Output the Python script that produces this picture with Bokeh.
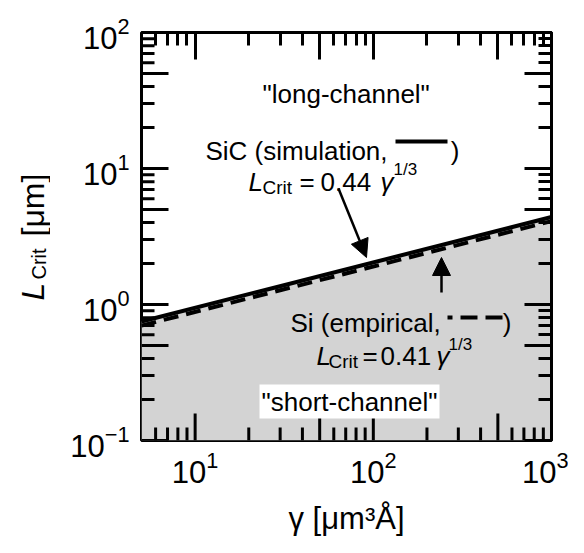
import math
from bokeh.plotting import figure
from bokeh.layouts import row
from bokeh.models import (LogAxis, FixedTicker, Label, Arrow, NormalHead,
                          CustomJSTickFormatter, LogTickFormatter)
from bokeh.embed import file_html
from bokeh.resources import INLINE

# ---------------- data ----------------
gamma = [5, 1000]                 # γ [µm^3 Å]
L_sic = [0.75, 4.4]               # SiC (simulation): L = 0.44 γ^(1/3)
L_si = [0.70, 4.1]                # Si (empirical):   L = 0.41 γ^(1/3)

x_major = [10, 100, 1000]
x_mid = [50, 500]
x_minor = [6, 7, 8, 9, 20, 30, 40, 60, 70, 80, 90, 200, 300, 400, 600, 700, 800, 900]
y_major = [0.1, 1, 10, 100]
y_mid = [0.5, 5, 50]
y_minor = [0.2, 0.3, 0.4, 0.6, 0.7, 0.8, 0.9, 2, 3, 4, 6, 7, 8, 9,
           20, 30, 40, 60, 70, 80, 90]
X_RANGE = (5, 1000)
Y_RANGE = (0.1, 100)

FONT = "Liberation Sans"
GREY = "#d3d3d3"
W_LAB = 50                            # strip holding the rotated y title
FL, FT, FW, FH = 141, 32, 410, 408    # frame position (reference picture)
LEFT = FL - W_LAB
TOP = FT
RIGHT = 17
BOTTOM = 97                           # 568 x 537 in total
LONG, SHORT = 27, 13                  # tick lengths in pixels
TW = 3                                # tick width in pixels

p = figure(x_axis_type="log", y_axis_type="log", x_range=X_RANGE, y_range=Y_RANGE,
           x_axis_location=None, y_axis_location=None,
           frame_width=FW, frame_height=FH,
           min_border_left=LEFT, min_border_right=RIGHT, min_border_top=TOP,
           min_border_bottom=BOTTOM,
           output_backend="svg", toolbar_location=None,
           background_fill_color="white", border_fill_color="white")
p.grid.visible = False
p.outline_line_color = "black"
p.outline_line_width = 3

# ---------------- marks ----------------
p.varea(x=gamma, y1=[Y_RANGE[0]] * len(gamma), y2=L_sic, fill_color=GREY)
p.line(gamma, L_si, line_color="black", line_width=4, line_dash="15 8")
p.line(gamma, L_sic, line_color="black", line_width=4)


# ---------------- axes ----------------
def tick_axis(ticks, minor):
    ax = LogAxis(ticker=FixedTicker(ticks=ticks, minor_ticks=minor),
                 formatter=CustomJSTickFormatter(code="return ''"))
    ax.axis_line_width = 3
    ax.axis_line_color = "black"
    ax.major_tick_in, ax.major_tick_out = LONG, 0
    ax.minor_tick_in, ax.minor_tick_out = SHORT, 0
    ax.major_tick_line_width = TW
    ax.minor_tick_line_width = TW
    ax.major_tick_line_color = "black"
    ax.minor_tick_line_color = "black"
    ax.major_label_text_font_size = "1px"
    ax.major_label_standoff = 0
    return ax


def label_axis(ticks, standoff):
    ax = LogAxis(ticker=FixedTicker(ticks=ticks, minor_ticks=[]),
                 formatter=LogTickFormatter())
    ax.axis_line_color = None
    ax.major_tick_in = ax.major_tick_out = 0
    ax.minor_tick_in = ax.minor_tick_out = 0
    ax.major_tick_line_color = None
    ax.minor_tick_line_color = None
    ax.major_label_text_font = FONT
    ax.major_label_text_font_size = "31px"
    ax.major_label_text_color = "black"
    ax.major_label_standoff = standoff
    return ax


# mirrored ticks on the top and right edges
p.add_layout(tick_axis(x_major + x_mid, x_minor), "above")
p.add_layout(tick_axis(y_major + y_mid, y_minor), "right")

# ticks on the bottom and left edges, pointing into the frame (thin filled bars)
ppd_x = FW / math.log10(X_RANGE[1] / X_RANGE[0])   # pixels per decade
ppd_y = FH / math.log10(Y_RANGE[1] / Y_RANGE[0])
hx = 10 ** (TW / 2 / ppd_x)
hy = 10 ** (TW / 2 / ppd_y)


def edge_ticks(vals, length):
    n = len(vals)
    p.quad(left=[v / hx for v in vals], right=[v * hx for v in vals],
           bottom=[Y_RANGE[0]] * n, top=[Y_RANGE[0] * 10 ** (length / ppd_y)] * n,
           fill_color="black", line_color=None)


def side_ticks(vals, length):
    n = len(vals)
    p.quad(left=[X_RANGE[0]] * n, right=[X_RANGE[0] * 10 ** (length / ppd_x)] * n,
           bottom=[v / hy for v in vals], top=[v * hy for v in vals],
           fill_color="black", line_color=None)


edge_ticks(x_major + x_mid, LONG)
edge_ticks(x_minor, SHORT)
side_ticks(y_major + y_mid, LONG)
side_ticks(y_minor, SHORT)

# tick labels 10^n and the x title
xa = label_axis(x_major, 10)
xa.axis_label = "γ [μm³Å]"
xa.axis_label_text_font = FONT
xa.axis_label_text_font_size = "31px"
xa.axis_label_text_font_style = "normal"
xa.axis_label_text_color = "black"
xa.axis_label_standoff = 15
p.add_layout(xa, "below")

ya = label_axis(y_major, 12)
p.add_layout(ya, "left")


# ---------------- annotations inside the frame ----------------
def at(sx, sy):
    x = X_RANGE[0] * (X_RANGE[1] / X_RANGE[0]) ** ((sx - FL) / FW)
    y = Y_RANGE[0] * (Y_RANGE[1] / Y_RANGE[0]) ** ((FT + FH - sy) / FH)
    return x, y


def make_label(x, y, s, size, italic=False, align="left", angle=0.0):
    return Label(x=x, y=y, text=s, text_font=FONT, text_font_size=f"{size}px",
                 text_font_style="italic" if italic else "normal",
                 text_align=align, text_baseline="alphabetic", text_color="black",
                 angle=angle)


def txt(s, sx, sy, size, italic=False, align="left", bg=None, pad=0):
    x, y = at(sx, sy)
    lab = make_label(x, y, s, size, italic, align)
    if bg is not None:
        lab.background_fill_color = bg
        lab.padding = pad
    p.add_layout(lab)


def seg(x0, y0, x1, y1, width, dash="solid", offset=0, head=None):
    a, b = at(x0, y0)
    c, d = at(x1, y1)
    p.add_layout(Arrow(x_start=a, y_start=b, x_end=c, y_end=d, end=head,
                       line_color="black", line_width=width, line_dash=dash,
                       line_dash_offset=offset))


TS = 26
txt('"long-channel"', 262, 93, TS)

txt("SiC (simulation,", 205, 150, TS)
seg(395, 141, 447, 141, 4)
txt(")", 459, 150, TS, align="right")
txt("L", 248, 181, TS, italic=True)
txt("Crit", 262, 187, 19)
txt("=", 299, 181, TS)
txt("0.44", 320, 181, TS)
txt("γ", 380, 181, TS, italic=True)
txt("1/3", 393, 169, 17)

txt("Si (empirical,", 290, 322, TS)
seg(447, 317, 503, 317, 4, dash="17 8", offset=12)
txt(")", 511, 322, TS, align="right")
txt("L", 316, 355, TS, italic=True)
txt("Crit", 328, 361, 19)
txt("=", 362, 355, TS)
txt("0.41", 380, 355, TS)
txt("γ", 436, 355, TS, italic=True)
txt("1/3", 448, 344, 17)

txt('"short-channel"', 259, 401, TS, bg="white", pad=2)

seg(338, 188, 366, 257, 2.5,
    head=NormalHead(size=18, fill_color="black", line_color="black", line_width=1))
seg(441, 292, 441, 257, 2.5,
    head=NormalHead(size=18, fill_color="black", line_color="black", line_width=1))

# ---------------- rotated y-axis title  L_Crit [µm]  (own strip) ----------------
# strip data coordinates = picture pixels (x from the left edge, y from the top)
ylab = figure(frame_width=W_LAB, frame_height=FH,
              x_range=(8, 8 + W_LAB), y_range=(FT + FH, FT),
              x_axis_location=None, y_axis_location=None,
              min_border_left=0, min_border_right=0, min_border_top=TOP,
              min_border_bottom=BOTTOM,
              output_backend="svg", toolbar_location=None,
              outline_line_color=None, background_fill_color="white",
              border_fill_color="white")
ylab.grid.visible = False
up = math.pi / 2
ylab.add_layout(make_label(40, 300, "L", 32, italic=True, angle=up))
ylab.add_layout(make_label(46, 279, "Crit", 20, angle=up))
ylab.add_layout(make_label(40, 236, "[μm]", 32, angle=up))

layout = row(ylab, p)
open("out.html", "w").write(file_html(layout, INLINE))
